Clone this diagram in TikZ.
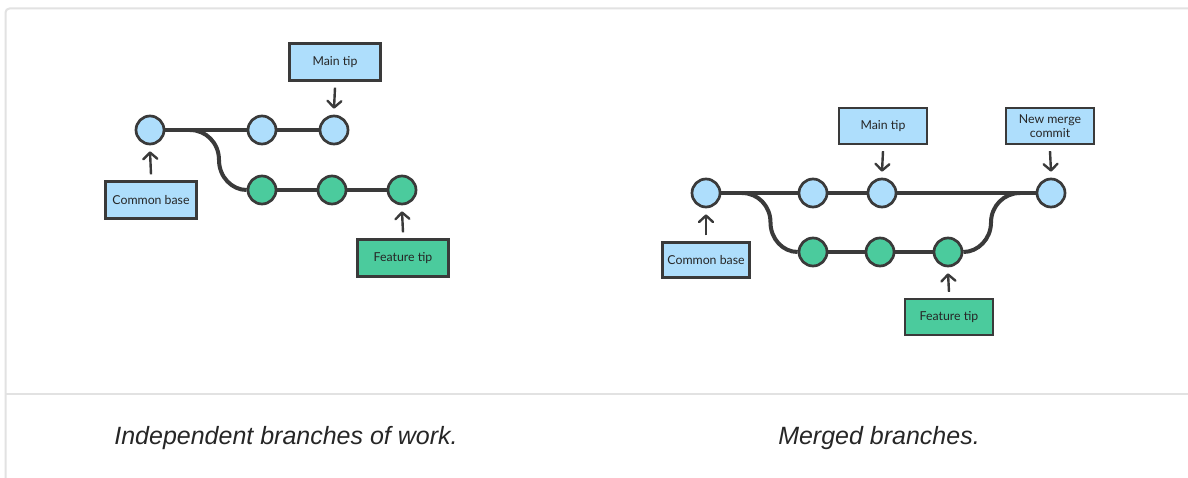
\documentclass[tikz,border=0pt]{standalone}
\usepackage{fontspec}
\setmainfont{Lato}
\newfontfamily\capfont{Liberation Sans}
\usetikzlibrary{arrows.meta}
\definecolor{ink}{HTML}{3A3A3A}
\definecolor{mainblue}{HTML}{AEDEFC}
\definecolor{featgreen}{HTML}{4BCB9D}
\definecolor{framegray}{HTML}{E2E2E2}
\definecolor{captext}{HTML}{262626}
\tikzset{
  commit/.style={circle, draw=ink, line width=2.7pt, minimum size=28pt, inner sep=0pt},
  blue/.style={commit, fill=mainblue},
  green/.style={commit, fill=featgreen},
  tag/.style={rectangle, draw=ink, line width=2.4pt, inner sep=0pt, align=center,
    font=\fontsize{12.3}{14.5}\selectfont, text=black!85},
  bluetag/.style={tag, fill=mainblue},
  greentag/.style={tag, fill=featgreen},
  branch/.style={draw=ink, line width=4pt},
  pointer/.style={draw=ink, line width=2.4pt,
    -{Straight Barb[length=6.5pt, width=14pt, line cap=round, line join=round]}},
  caption/.style={font=\capfont\itshape\fontsize{25}{28}\selectfont, text=captext},
}
\begin{document}
\begin{tikzpicture}[x=1pt, y=-1pt]
  % canvas
  \fill[white] (0,0) rectangle (1188,478);
  \useasboundingbox (0,0) rectangle (1188,478);

  % card frame and caption separator
  \draw[framegray, line width=2pt, rounded corners=4pt] (5.5,478) -- (5.5,8.5) -- (1188,8.5);
  \draw[framegray, line width=2pt] (5.5,394) -- (1188,394);

  % ---------- independent branches ----------
  \coordinate (lfork) at (190,130);
  \node[blue]  (l0) at (150,130) {};
  \node[blue]  (l1) at (262,130) {};
  \node[blue]  (l2) at (334,130) {};
  \node[green] (f1) at (262,190) {};
  \node[green] (f2) at (332,190) {};
  \node[green] (f3) at (402,190) {};

  \draw[branch] (l0.east) -- (l1.west);
  \draw[branch] (l1.east) -- (l2.west);
  \draw[branch] (f1.east) -- (f2.west);
  \draw[branch] (f2.east) -- (f3.west);
  \draw[branch] (lfork) .. controls (206,130) and (219,143) .. (219,160)
                        .. controls (219,177) and (232,190) .. (f1.west);

  \node[bluetag, minimum width=91pt, minimum height=37pt]  (lmaintag) at (335,62)  {Main tip};
  \node[bluetag, minimum width=91pt, minimum height=37pt]  (lbasetag) at (151,200) {Common base};
  \node[greentag, minimum width=91pt, minimum height=37pt] (lfeattag) at (403,258) {Feature tip};

  % pointers: the y axis runs downwards, so a positive yshift moves up
  \draw[pointer] ([yshift=-6pt]lmaintag.south) -- ([yshift=6pt]l2.north);
  \draw[pointer] ([yshift=6pt]lbasetag.north) -- ([yshift=-6pt]l0.south);
  \draw[pointer] ([yshift=6pt]lfeattag.north) -- ([yshift=-6pt]f3.south);

  \node[caption] (lcap) at (286,438) {Independent branches of work.};

  % ---------- merged branches ----------
  \coordinate (rfork) at (742,193);
  \coordinate (rjoin) at (1020,193);
  \node[blue]  (r0) at (706,193) {};
  \node[blue]  (r1) at (813,193) {};
  \node[blue]  (r2) at (882,193) {};
  \node[blue]  (rm) at (1051,193) {};
  \node[green] (g1) at (813,252) {};
  \node[green] (g2) at (880,252) {};
  \node[green] (g3) at (948,252) {};

  \draw[branch] (r0.east) -- (r1.west);
  \draw[branch] (r1.east) -- (r2.west);
  \draw[branch] (r2.east) -- (rm.west);
  \draw[branch] (g1.east) -- (g2.west);
  \draw[branch] (g2.east) -- (g3.west);
  \draw[branch] (rfork) .. controls (758,193) and (770.5,206) .. (770.5,222.5)
                        .. controls (770.5,239) and (783,252) .. (g1.west);
  \draw[branch] (g3.east) .. controls (978,252) and (991,239) .. (991,222.5)
                          .. controls (991,206) and (1004,193) .. (rjoin);

  \node[bluetag, minimum width=88pt, minimum height=36pt]  (rmaintag)  at (883,126)  {Main tip};
  \node[bluetag, minimum width=88pt, minimum height=36pt]  (rmergetag) at (1050,126) {New merge\\commit};
  \node[bluetag, minimum width=87pt, minimum height=35pt]  (rbasetag)  at (706,260)  {Common base};
  \node[greentag, minimum width=88pt, minimum height=36pt] (rfeattag)  at (949,317)  {Feature tip};

  \draw[pointer] ([yshift=-6pt]rmaintag.south) -- ([yshift=6pt]r2.north);
  \draw[pointer] ([yshift=-6pt]rmergetag.south) -- ([yshift=6pt]rm.north);
  \draw[pointer] ([yshift=6pt]rbasetag.north) -- ([yshift=-6pt]r0.south);
  \draw[pointer] ([yshift=6pt]rfeattag.north) -- ([yshift=-6pt]g3.south);

  \node[caption] (rcap) at (879,438) {Merged branches.};
\end{tikzpicture}
\end{document}
